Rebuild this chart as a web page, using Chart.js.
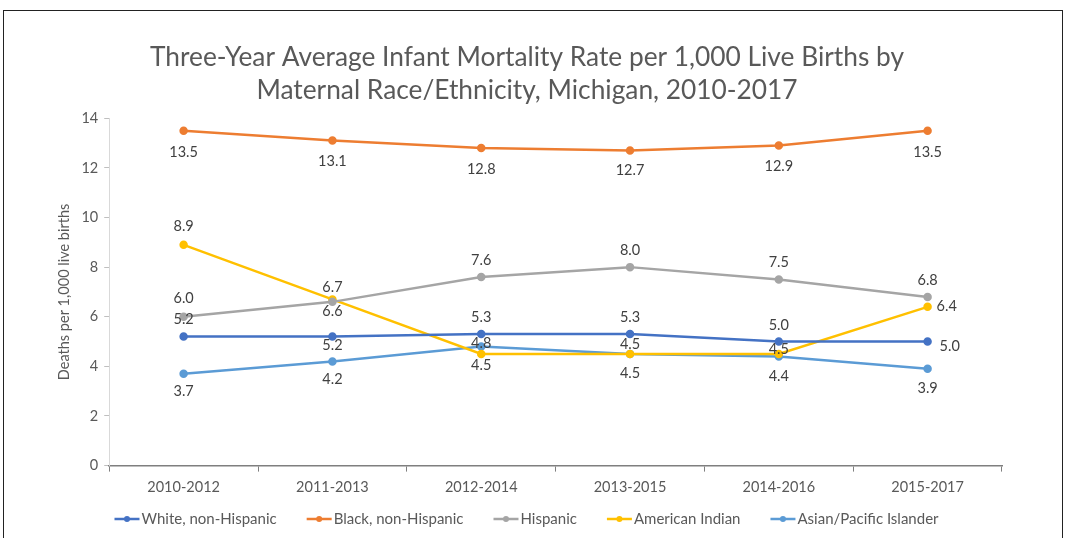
<!DOCTYPE html>
<html>
<head>
<meta charset="utf-8">
<script src="https://cdn.jsdelivr.net/npm/chart.js@4.4.1/dist/chart.umd.min.js"></script>
<style>
  body { margin: 0; background: #fff; }
  #wrap { position: relative; width: 1065px; height: 538px; }
  #frame { position: absolute; left: 3px; top: 10px; width: 1058px; height: 540px;
           border-left: 1px solid #222; border-top: 1px solid #222; border-right: 1px solid #222;
           pointer-events: none; }
</style>
</head>
<body>
<div id="wrap">
  <canvas id="chart" width="1065" height="538"></canvas>
  <div id="frame"></div>
</div>
<script>
const periods = ["2010-2012", "2011-2013", "2012-2014", "2013-2015", "2014-2016", "2015-2017"];
const white = [5.2, 5.2, 5.3, 5.3, 5.0, 5.0];
const black = [13.5, 13.1, 12.8, 12.7, 12.9, 13.5];
const hispanic = [6.0, 6.6, 7.6, 8.0, 7.5, 6.8];
const amIndian = [8.9, 6.7, 4.5, 4.5, 4.5, 6.4];
const asian = [3.7, 4.2, 4.8, 4.5, 4.4, 3.9];
const yTicks = [0, 2, 4, 6, 8, 10, 12, 14];

// value label nudges from each point (px), same order as the datasets
const labelDx = [
    [0, 0, 0, 0, 0, 12],
    [0, 0, 0, 0, 0, 0],
    [0, 0, 0, 0, 0, 0],
    [0, 0, 0, 0, 0, 9],
    [0, 0, 0, 0, 0, 0],
];
const labelDy = [
    [-17, 9, -17, -17, -16, 5],
    [22, 21, 21, 20, 21, 22],
    [-18, 9, -17, -17, -17, -17],
    [-18, -12, 11, -10, -5, 0],
    [18, 18, -3, 19, 20, 19],
];

const FONT = "Lato";

function series(label, values, color) {
    return {
        label: label,
        data: values,
        borderColor: color,
        backgroundColor: color,
        borderWidth: 2.5,
        pointRadius: 3,
        pointHoverRadius: 3,
        tension: 0,
        pointStyle: "circle",
    };
}

const valueLabels = {
    id: "valueLabels",
    afterDatasetsDraw(chart) {
        const ctx = chart.ctx;
        ctx.save();
        ctx.font = "14.5px " + FONT;
        ctx.fillStyle = "#404040";
        ctx.textBaseline = "middle";
        chart.data.datasets.forEach((ds, i) => {
            const meta = chart.getDatasetMeta(i);
            meta.data.forEach((pt, j) => {
                const dx = labelDx[i][j];
                ctx.textAlign = dx ? "left" : "center";
                ctx.fillText(ds.data[j].toFixed(1), pt.x + dx, pt.y + labelDy[i][j]);
            });
        });
        ctx.restore();
    },
};

// Excel-style legend row: short line with a dot, then the series name
const lineLegend = {
    id: "lineLegend",
    afterDraw(chart) {
        const ctx = chart.ctx;
        const sets = chart.data.datasets;
        const lineLen = 25, textGap = 2, itemGap = 30;
        ctx.save();
        ctx.font = "15px " + FONT;
        ctx.textBaseline = "middle";
        ctx.textAlign = "left";
        const widths = sets.map((ds) => lineLen + textGap + ctx.measureText(ds.label).width);
        const total = widths.reduce((a, b) => a + b, 0) + itemGap * (sets.length - 1);
        let x = 526.5 - total / 2;
        const y = 519;
        sets.forEach((ds, i) => {
            ctx.strokeStyle = ds.borderColor;
            ctx.lineWidth = 2.5;
            ctx.beginPath();
            ctx.moveTo(x, y);
            ctx.lineTo(x + lineLen, y);
            ctx.stroke();
            ctx.fillStyle = ds.borderColor;
            ctx.beginPath();
            ctx.arc(x + lineLen / 2, y, 3, 0, Math.PI * 2);
            ctx.fill();
            ctx.fillStyle = "#595959";
            ctx.fillText(ds.label, x + lineLen + textGap, y);
            x += widths[i] + itemGap;
        });
        ctx.restore();
    },
};

new Chart(document.getElementById("chart"), {
    type: "line",
    data: {
        labels: periods,
        datasets: [
            series("White, non-Hispanic", white, "#4472C4"),
            series("Black, non-Hispanic", black, "#ED7D31"),
            series("Hispanic", hispanic, "#A5A5A5"),
            series("American Indian", amIndian, "#FFC000"),
            series("Asian/Pacific Islander", asian, "#5B9BD5"),
        ],
    },
    options: {
        responsive: false,
        animation: false,
        layout: { padding: { top: 41, left: 52, right: 63, bottom: 35 } },
        plugins: {
            title: {
                display: true,
                text: ["Three-Year Average Infant Mortality Rate per 1,000 Live Births by",
                       "Maternal Race/Ethnicity, Michigan, 2010-2017"],
                color: "#595959",
                font: { family: FONT, size: 26.3, weight: "normal", lineHeight: 1.26 },
                padding: { top: 0, bottom: 11 },
            },
            legend: { display: false },
            tooltip: { enabled: false },
        },
        scales: {
            x: {
                offset: true,
                grid: { display: true, drawOnChartArea: false, offset: true, tickLength: 6, color: "#7f7f7f" },
                border: { color: "#7f7f7f", width: 1.5 },
                ticks: { color: "#595959", font: { family: FONT, size: 14.5 }, padding: 7 },
            },
            y: {
                min: 0,
                max: 14,
                afterBuildTicks(scale) {
                    scale.ticks = yTicks.map((v) => ({ value: v }));
                },
                grid: { display: true, drawOnChartArea: false, tickLength: 5, color: "#bfbfbf" },
                border: { color: "#d9d9d9" },
                ticks: { color: "#595959", font: { family: FONT, size: 14.5 }, padding: 6 },
                title: {
                    display: true,
                    text: "Deaths per 1,000 live births",
                    color: "#595959",
                    font: { family: FONT, size: 14.5 },
                    padding: { bottom: 2 },
                },
            },
        },
    },
    plugins: [valueLabels, lineLegend],
});
</script>
</body>
</html>
